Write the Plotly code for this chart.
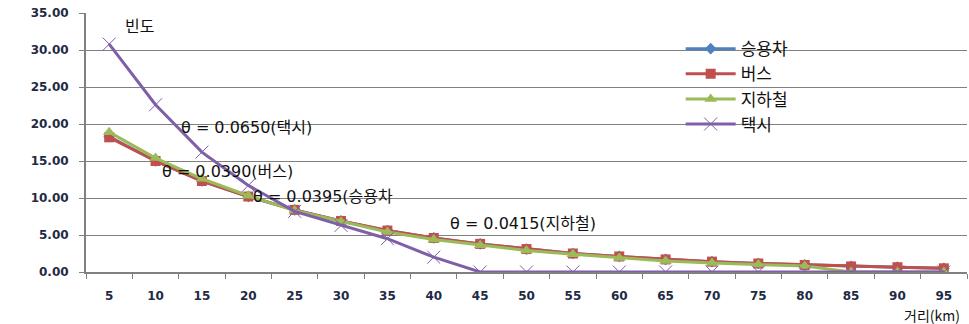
import plotly.graph_objects as go

distance = ["5","10","15","20","25","30","35","40","45","50","55","60","65","70","75","80","85","90","95"]
car    = [18.3,15.0,12.3,10.2,8.4,6.9,5.6,4.6,3.8,3.1,2.5,2.1,1.7,1.4,1.15,0.95,0.75,0.65,0.5]
bus    = [18.2,15.0,12.3,10.2,8.4,6.9,5.6,4.6,3.8,3.1,2.5,2.1,1.7,1.4,1.15,0.95,0.75,0.65,0.5]
subway = [18.9,15.4,12.6,10.3,8.3,6.8,5.4,4.4,3.6,2.9,2.4,1.9,1.5,1.2,1.0,0.8,0.0,0.0,0.0]
taxi   = [30.8,22.6,16.2,11.7,8.2,6.3,4.5,2.0,0,0,0,0,0,0,0,0,0,0,0]
y_ticks = [0,5,10,15,20,25,30,35]

fig = go.Figure()
series = [
    ("승용차", car, "#4F81BD", dict(symbol="diamond", size=9)),
    ("버스", bus, "#C0504D", dict(symbol="square", size=10)),
    ("지하철", subway, "#9BBB59", dict(symbol="triangle-up", size=11)),
    ("택시", taxi, "#7F5FA8", dict(symbol="x-thin-open", size=13, line=dict(width=1, color="#8064A2"))),
]
for name, vals, col, mk in series:
    m = dict(color=col, **mk)
    fig.add_trace(go.Scatter(x=distance, y=vals, name=name, mode="lines+markers",
                             line=dict(color=col, width=3), marker=m))

ann_font = dict(family="DejaVu Sans, Noto Sans CJK KR", size=16, color="#111")
anns = [
    ("빈도", 0.3, 33.2),
    ("θ = 0.0650(택시)", 1.5, 19.5),
    ("θ = 0.0390(버스)", 1.1, 13.6),
    ("θ = 0.0395(승용차", 3.05, 10.2),
    ("θ = 0.0415(지하철)", 7.3, 6.6),
]
for txt, xv, yv in anns:
    fig.add_annotation(x=xv, y=yv, xref="x", yref="y", text=txt, showarrow=False,
                       xanchor="left", yanchor="middle", font=ann_font)
fig.add_annotation(x=0.994, y=-0.12, xref="paper", yref="paper", text="거리(km)", showarrow=False,
                   xanchor="right", yanchor="top", font=dict(family="Noto Sans CJK KR", size=14, color="#111"))

tickfont = dict(family="DejaVu Sans", size=12, color="#1F2A44")
fig.update_layout(
    width=969, height=324,
    margin=dict(l=86, r=2, t=13, b=52),
    plot_bgcolor="white", paper_bgcolor="white",
    showlegend=True,
    legend=dict(x=0.675, y=0.93, xanchor="left", yanchor="top", bgcolor="rgba(0,0,0,0)",
                font=dict(family="Noto Sans CJK KR", size=17, color="#111"),
                tracegroupgap=0, itemwidth=50),
    xaxis=dict(type="category", range=[-0.5, 18.5], showgrid=False, showline=True,
               linecolor="#808080", linewidth=2, ticks="outside", tickson="boundaries",
               ticklen=5, tickcolor="#808080", tickfont=dict(tickfont, weight="bold"),
               ticklabelstandoff=12),
    yaxis=dict(range=[0, 35], tickvals=y_ticks, tickformat=".2f", showgrid=True,
               gridcolor="#808080", gridwidth=1, showline=True, linecolor="#808080", linewidth=2,
               ticks="outside", ticklen=5, tickcolor="#808080", zeroline=False,
               tickfont=dict(tickfont, weight="bold"), ticklabelstandoff=8),
)
fig.write_html("out.html")
